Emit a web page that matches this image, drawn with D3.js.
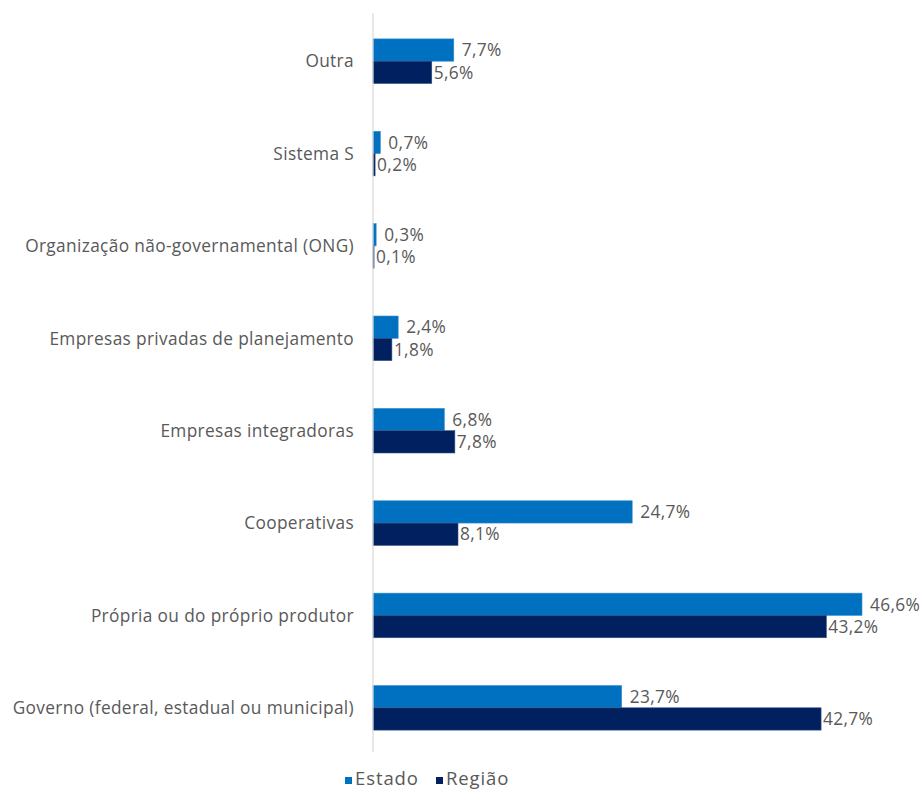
<!DOCTYPE html>
<html><head><meta charset="utf-8">
<script src="https://cdn.jsdelivr.net/npm/d3@7"></script>
<style>body{margin:0;background:#fff;}svg{display:block;font-family:"Open Sans",sans-serif;}</style>
</head><body>
<svg id="c" width="922" height="789"></svg>
<script>
const categories = ["Outra","Sistema S","Organização não-governamental (ONG)","Empresas privadas de planejamento","Empresas integradoras","Cooperativas","Própria ou do próprio produtor","Governo (federal, estadual ou municipal)"];
const seriesNames = ["Estado","Região"];
const estado = [7.7,0.7,0.3,2.4,6.8,24.7,46.6,23.7];
const regiao = [5.6,0.2,0.1,1.8,7.8,8.1,43.2,42.7];
const colors = ["#0070C0","#002060"];

(function(){
const svg = d3.select("#c");
const x0 = 373;
const FS = 17.3, LS = 0.35;
const x = d3.scaleLinear().domain([0,46.6]).range([x0, 862]);
const y = d3.scaleBand().domain(categories).range([15,754]).paddingInner(0).paddingOuter(0);
const bandH = y.bandwidth();
const barH = 22.3;
const sub = d3.scaleBand().domain(seriesNames).range([bandH/2 - barH, bandH/2 + barH]);

const data = categories.map((c,i)=>({c, vals:[estado[i], regiao[i]]}));

const g = svg.append("g");
data.forEach(d=>{
  d.vals.forEach((v,j)=>{
    const yy = y(d.c) + sub(seriesNames[j]);
    g.append("rect").attr("x", x0).attr("y", yy).attr("width", x(v)-x0).attr("height", sub.bandwidth())
      .attr("fill", colors[j]).attr("stroke", j===0?"#3d8fd0":"#33507f").attr("stroke-width",0.6);
    g.append("text").attr("x", x(v)+ (j===0?8:2)).attr("y", yy + sub.bandwidth()/2).attr("dy","0.36em")
      .attr("font-size",FS).attr("letter-spacing",LS).attr("fill","#595959").text(v.toFixed(1).replace(".",",")+"%");
  });
  g.append("text").attr("x", 354).attr("y", y(d.c)+bandH/2).attr("dy","0.36em").attr("text-anchor","end")
    .attr("font-size",FS).attr("letter-spacing",LS).attr("fill","#595959").text(d.c);
});

svg.append("line").attr("x1",x0).attr("x2",x0).attr("y1",13).attr("y2",752).attr("stroke","#d9d9d9").attr("stroke-width",1.2);

const leg = svg.append("g");
const lx = [345, 436];
seriesNames.forEach((s,j)=>{
  leg.append("rect").attr("x",lx[j]).attr("y",777).attr("width",7).attr("height",7).attr("fill",colors[j]);
  leg.append("text").attr("x",lx[j]+10).attr("y",785).attr("font-size",18.5).attr("letter-spacing",0.9).attr("fill","#595959").text(s);
});
})();
</script>
</body></html>
